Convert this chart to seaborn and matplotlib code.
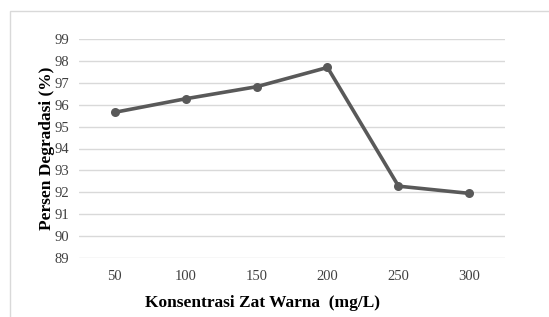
import matplotlib
matplotlib.use('Agg')
import matplotlib.pyplot as plt
import seaborn as sns
import pandas as pd
from matplotlib.patches import Rectangle

# data
konsentrasi = ['50', '100', '150', '200', '250', '300']
degradasi = [95.65, 96.27, 96.82, 97.70, 92.28, 91.95]
y_ticks = [89, 90, 91, 92, 93, 94, 95, 96, 97, 98, 99]

df = pd.DataFrame({'Konsentrasi': konsentrasi, 'Degradasi': degradasi})

sns.set_style('white')
plt.rcParams['font.family'] = ['Liberation Serif', 'DejaVu Serif']

fig = plt.figure(figsize=(5.49, 3.17), dpi=100)
ax = fig.add_axes([79 / 549, 1 - 258 / 317, 426 / 549, 219 / 317])

# light frame around chart area
fig.patches.append(Rectangle((10 / 549, -0.1), 1.0, 1 - 11 / 317 + 0.1,
                             transform=fig.transFigure, fill=False,
                             edgecolor='#d9d9d9', linewidth=1))

sns.lineplot(data=df, x='Konsentrasi', y='Degradasi', ax=ax, color='#595959',
             linewidth=2.6, marker='o', markersize=6.5, markeredgewidth=0,
             sort=False)

ax.set_xlim(-0.5, 5.5)
ax.set_ylim(89, 99)
ax.set_yticks(y_ticks)
ax.yaxis.grid(True, color='#d9d9d9', linewidth=1)
ax.xaxis.grid(False)
ax.set_axisbelow(True)
for s in ax.spines.values():
    s.set_visible(False)
ax.tick_params(axis='both', length=0, labelsize=10.5, labelcolor='#404040')
ax.tick_params(axis='x', pad=9)
ax.tick_params(axis='y', pad=7)

ax.set_xlabel('Konsentrasi Zat Warna  (mg/L)', fontsize=12.5, fontweight='bold',
              color='black', labelpad=9)
ax.xaxis.set_label_coords(0.43, -0.17)
ax.set_ylabel('Persen Degradasi (%)', fontsize=12.5, fontweight='bold',
              color='black', labelpad=0)

fig.savefig('out.png', dpi=100)
